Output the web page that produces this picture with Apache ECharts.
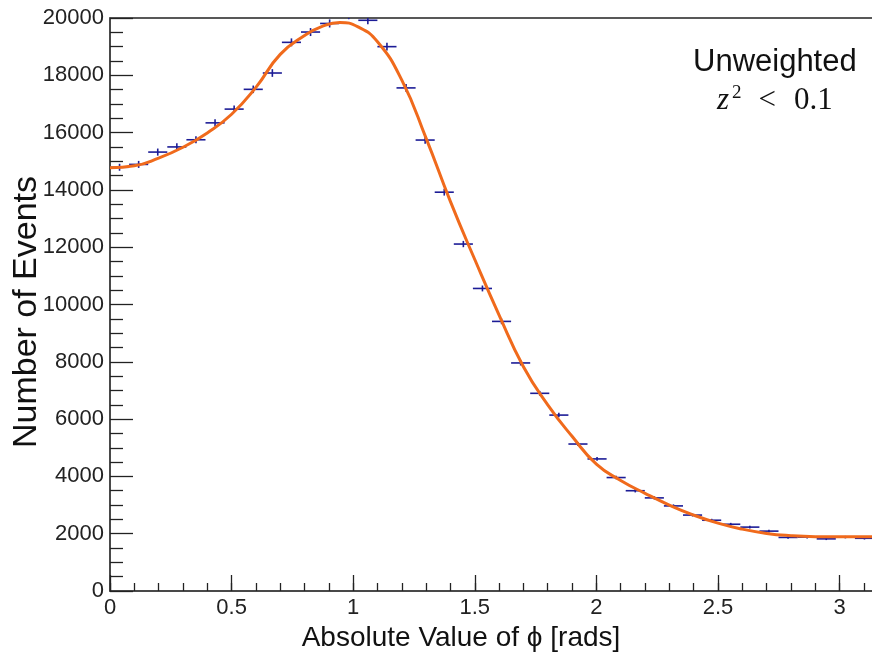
<!DOCTYPE html>
<html>
<head>
<meta charset="utf-8">
<script src="https://cdn.jsdelivr.net/npm/echarts@6/dist/echarts.min.js"></script>
<style>html,body{margin:0;padding:0;background:#fff}#c{width:872px;height:663px}</style>
</head>
<body>
<div id="c"></div>
<script>
// Histogram: 40 bins over |phi| in [0, pi]
const xMin = 0;
const xMax = Math.PI;
const nBins = 40;
const binCounts = [
  14790, 14890, 15320, 15500, 15750, 16340, 16820, 17510, 18080, 19150,
  19510, 19810, 20100, 19920, 19000, 17560, 15740, 13920, 12110, 10560,
  9410, 7960, 6900, 6140, 5130, 4610, 3960, 3500, 3250, 2970,
  2650, 2470, 2330, 2230, 2090, 1870, 1880, 1820, 1880, 1840
];
// Fit curve
const fitX = [0, 0.1, 0.2, 0.3, 0.4, 0.5, 0.6, 0.7, 0.8, 0.87, 0.945, 1.02,
  1.1, 1.2, 1.3, 1.4, 1.5, 1.6, 1.7, 1.8, 1.9, 2.0,
  2.1, 2.2, 2.3, 2.4, 2.5, 2.6, 2.7, 2.8, 2.9, 3.0, 3.1416];
const fitY = [14770, 14840, 15110, 15490, 15990, 16640, 17580, 18730, 19390, 19700, 19845, 19690,
  19170, 17830, 15800, 13590, 11570, 9630, 7830, 6500, 5400, 4430,
  3860, 3410, 3000, 2650, 2370, 2160, 2010, 1930, 1895, 1890, 1890];
const xTickLabels = ['0', '0.5', '1', '1.5', '2', '2.5', '3'];
const yTickLabels = ['0', '2000', '4000', '6000', '8000', '10000', '12000', '14000', '16000', '18000', '20000'];
const xTitle = 'Absolute Value of \u03d5 [rads]';
const yTitle = 'Number of Events';

const binWidth = (xMax - xMin) / nBins;
const histData = binCounts.map((v, i) => [xMin + i * binWidth, xMin + (i + 1) * binWidth, v, Math.sqrt(v)]);
const fitData = fitX.map((x, i) => [x, fitY[i]]);

const chart = echarts.init(document.getElementById('c'), null, {renderer: 'canvas'});
const font = 'Liberation Sans, Arial, Helvetica, sans-serif';
const serif = 'Liberation Serif, DejaVu Serif, serif';
const axisCol = '#444';

chart.setOption({
  animation: false,
  backgroundColor: '#fff',
  grid: {left: 110, right: -2, top: 18, bottom: 72, outerBoundsMode: 'none', containLabel: false,
    show: true, borderColor: '#222', borderWidth: 1.5, backgroundColor: 'transparent'},
  xAxis: [
    {
      type: 'value', min: xMin, max: xMax, interval: 0.5, position: 'bottom',
      axisLine: {show: true, onZero: false, lineStyle: {color: axisCol, width: 1.5}},
      axisTick: {show: true, inside: true, length: 16, lineStyle: {color: '#222', width: 1.3}},
      axisLabel: {
        show: true, fontFamily: font, fontSize: 22, color: '#222', margin: 6, showMaxLabel: false,
        formatter: function (v) { const k = Math.round(v / 0.5); return Math.abs(v - k * 0.5) < 1e-6 ? xTickLabels[k] : ''; }
      },
      splitLine: {show: false},
      name: xTitle, nameLocation: 'middle', nameGap: 32,
      nameTextStyle: {fontFamily: font, fontSize: 28, color: '#111', padding: [0, 62, 0, 0]}
    },
    {
      type: 'value', min: xMin, max: xMax, interval: 0.1, position: 'bottom',
      axisLine: {show: false, onZero: false},
      axisTick: {show: true, inside: true, length: 8, lineStyle: {color: '#222', width: 1.3}},
      axisLabel: {show: false},
      splitLine: {show: false}
    }
  ],
  yAxis: [
    {
      type: 'value', min: 0, max: 20000, interval: 2000,
      axisLine: {show: true, onZero: false, lineStyle: {color: axisCol, width: 1.5}},
      axisTick: {show: true, inside: true, length: 23, lineStyle: {color: '#222', width: 1.3}},
      minorTick: {show: true, splitNumber: 4, length: 13, lineStyle: {color: '#222', width: 1.3}},
      axisLabel: {
        fontFamily: font, fontSize: 22, color: '#222', margin: 6,
        formatter: function (v) { return yTickLabels[Math.round(v / 2000)]; }
      },
      splitLine: {show: false}
    }
  ],
  series: [
    {
      type: 'custom', xAxisIndex: 0, yAxisIndex: 0, clip: true, z: 2,
      data: histData,
      renderItem: function (params, api) {
        const x0 = api.value(0), x1 = api.value(1), v = api.value(2), e = api.value(3);
        const pL = api.coord([x0, v]);
        const pR = api.coord([x1, v]);
        const xc = (x0 + x1) / 2;
        const pT = api.coord([xc, v + e]);
        const pB = api.coord([xc, v - e]);
        const st = {stroke: '#1c1c96', lineWidth: 1.6};
        return {
          type: 'group',
          children: [
            {type: 'line', shape: {x1: pL[0], y1: pL[1], x2: pR[0], y2: pR[1]}, style: st},
            {type: 'line', shape: {x1: pT[0], y1: pT[1], x2: pB[0], y2: pB[1]}, style: st}
          ]
        };
      }
    },
    {
      type: 'line', xAxisIndex: 0, yAxisIndex: 0, data: fitData, smooth: 0.5, showSymbol: false, z: 3,
      lineStyle: {color: '#f06a1c', width: 3}
    }
  ],
  graphic: [
    {
      type: 'text', x: 27, y: 312, rotation: Math.PI / 2,
      style: {text: yTitle, font: '34px ' + font, fill: '#111', align: 'center', verticalAlign: 'middle'}
    },
    {type: 'text', left: 693, top: 47, style: {text: 'Unweighted', font: '31px ' + font, fill: '#111'}},
    {
      type: 'text', left: 717, top: 84,
      style: {
        text: '{i|z}{s|2}{n|<}{m|0.1}',
        rich: {
          i: {fontFamily: serif, fontStyle: 'italic', fontSize: 31, fill: '#111'},
          s: {fontFamily: serif, fontSize: 19, fill: '#111', verticalAlign: 'top', padding: [0, 0, 14, 3]},
          n: {fontFamily: serif, fontSize: 31, fill: '#111', padding: [0, 0, 0, 17]},
          m: {fontFamily: serif, fontSize: 31, fill: '#111', padding: [0, 0, 0, 18]}
        }
      }
    }
  ]
});
</script>
</body>
</html>
